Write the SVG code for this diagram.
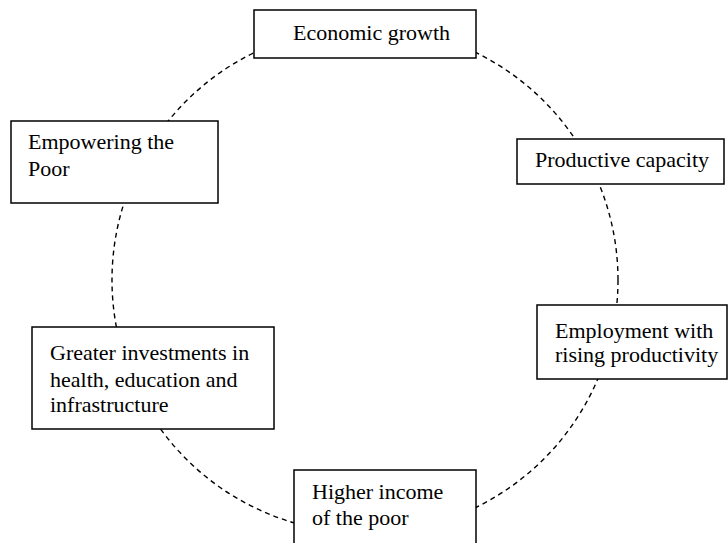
<svg xmlns="http://www.w3.org/2000/svg" width="728" height="543" viewBox="0 0 728 543">
<style>
.box{fill:#fff;stroke:#000;stroke-width:1.5}
.lbl{font-family:"Liberation Serif","Times New Roman",serif;font-size:22px;fill:#000}
.conn{fill:none;stroke:#000;stroke-width:1.4;stroke-dasharray:5 4}
</style>
<rect width="728" height="543" fill="#fff"/>
<g id="connectors">
<circle class="conn" cx="365" cy="280" r="253"/>
</g>
<g id="economic-growth">
<rect class="box" x="254" y="10" width="222" height="48"/>
<text class="lbl" x="293" y="40">Economic growth</text>
</g>
<g id="productive-capacity">
<rect class="box" x="517" y="139" width="207" height="45"/>
<text class="lbl" x="535" y="167">Productive capacity</text>
</g>
<g id="employment">
<rect class="box" x="537" y="305" width="190" height="74"/>
<text class="lbl" x="555" y="338">Employment with</text>
<text class="lbl" x="555" y="362">rising productivity</text>
</g>
<g id="higher-income">
<rect class="box" x="294" y="470" width="182" height="80"/>
<text class="lbl" x="312" y="499">Higher income</text>
<text class="lbl" x="312" y="525">of the poor</text>
</g>
<g id="greater-investments">
<rect class="box" x="32" y="327" width="242" height="102"/>
<text class="lbl" x="50" y="360">Greater investments in</text>
<text class="lbl" x="50" y="387">health, education and</text>
<text class="lbl" x="50" y="412">infrastructure</text>
</g>
<g id="empowering">
<rect class="box" x="11" y="121" width="207" height="82"/>
<text class="lbl" x="28" y="149">Empowering the</text>
<text class="lbl" x="28" y="176">Poor</text>
</g>
</svg>
